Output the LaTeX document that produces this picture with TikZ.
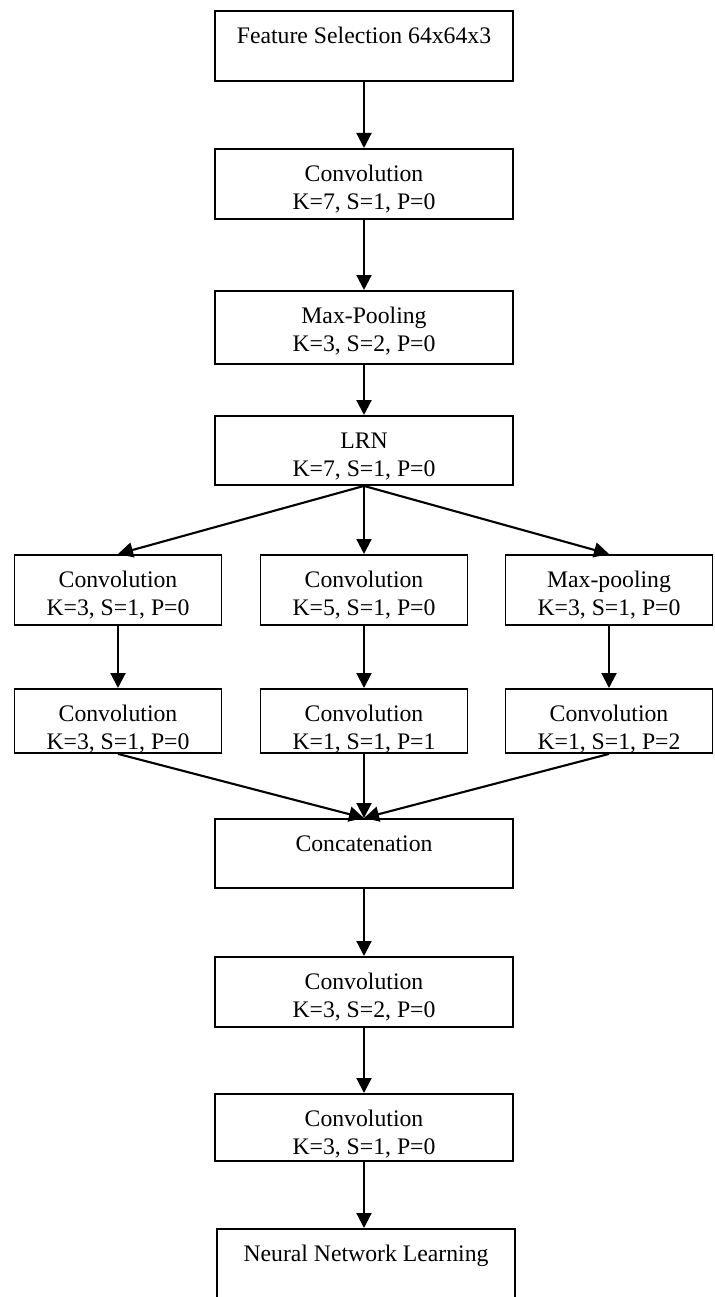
\documentclass[tikz,border=0pt]{standalone}
\usepackage{fontspec}
\setmainfont{Liberation Serif}
\usetikzlibrary{arrows.meta}

\begin{document}
\begin{tikzpicture}[x=0.02cm,y=-0.02cm,
	layer_node/.style={draw,line width=1.1pt,rectangle,anchor=north,align=center,
		inner xsep=0pt,inner ysep=0pt,minimum width=5.96cm,
		font=\fontsize{13.5}{16}\selectfont,text height=0.66cm,text depth=#1},
	two_line/.style={text height=1.22cm},
	branch_node/.style={layer_node=#1,two_line,minimum width=4.14cm},
	flow/.style={line width=1.2pt,-{Triangle[length=0.3cm,width=0.3cm]}}]

		\useasboundingbox (0,0) rectangle (715,1297);

		\node[layer_node=0.74cm] (input) at (364,10) {Feature Selection 64x64x3};
		\node[layer_node=0.18cm,two_line] (conv1) at (364,148) {Convolution\\K=7, S=1, P=0};
		\node[layer_node=0.24cm,two_line] (pool1) at (364,290) {Max-Pooling\\K=3, S=2, P=0};
		\node[layer_node=0.16cm,two_line] (lrn) at (364,415) {LRN\\K=7, S=1, P=0};

		\node[branch_node=0.18cm] (conv_a1) at (118,554) {Convolution\\K=3, S=1, P=0};
		\node[branch_node=0.18cm] (conv_b1) at (364,554) {Convolution\\K=5, S=1, P=0};
		\node[branch_node=0.18cm] (pool_c1) at (609,554) {Max-pooling\\K=3, S=1, P=0};
		\node[branch_node=0.06cm] (conv_a2) at (118,688) {Convolution\\K=3, S=1, P=0};
		\node[branch_node=0.06cm] (conv_b2) at (364,688) {Convolution\\K=1, S=1, P=1};
		\node[branch_node=0.06cm] (conv_c2) at (609,688) {Convolution\\K=1, S=1, P=2};

		\node[layer_node=0.72cm] (concat) at (364,818) {Concatenation};
		\node[layer_node=0.18cm,two_line] (conv2) at (364,956) {Convolution\\K=3, S=2, P=0};
		\node[layer_node=0.12cm,two_line] (conv3) at (364,1093) {Convolution\\K=3, S=1, P=0};
		\node[layer_node=0.84cm] (learn) at (366,1228) {Neural Network Learning};

		\draw[flow] (input) -- (conv1);
		\draw[flow] (conv1) -- (pool1);
		\draw[flow] (pool1) -- (lrn);
		\draw[flow] (lrn.south) -- (conv_a1.north);
		\draw[flow] (lrn.south) -- (conv_b1.north);
		\draw[flow] (lrn.south) -- (pool_c1.north);
		\draw[flow] (conv_a1) -- (conv_a2);
		\draw[flow] (conv_b1) -- (conv_b2);
		\draw[flow] (pool_c1) -- (conv_c2);
		\draw[flow] (conv_a2.south) -- (concat.north);
		\draw[flow] (conv_b2.south) -- (concat.north);
		\draw[flow] (conv_c2.south) -- (concat.north);
		\draw[flow] (concat) -- (conv2);
		\draw[flow] (conv2) -- (conv3);
		\draw[flow] (conv3) -- (learn.north -| conv3.south);
		\end{tikzpicture}
\end{document}
